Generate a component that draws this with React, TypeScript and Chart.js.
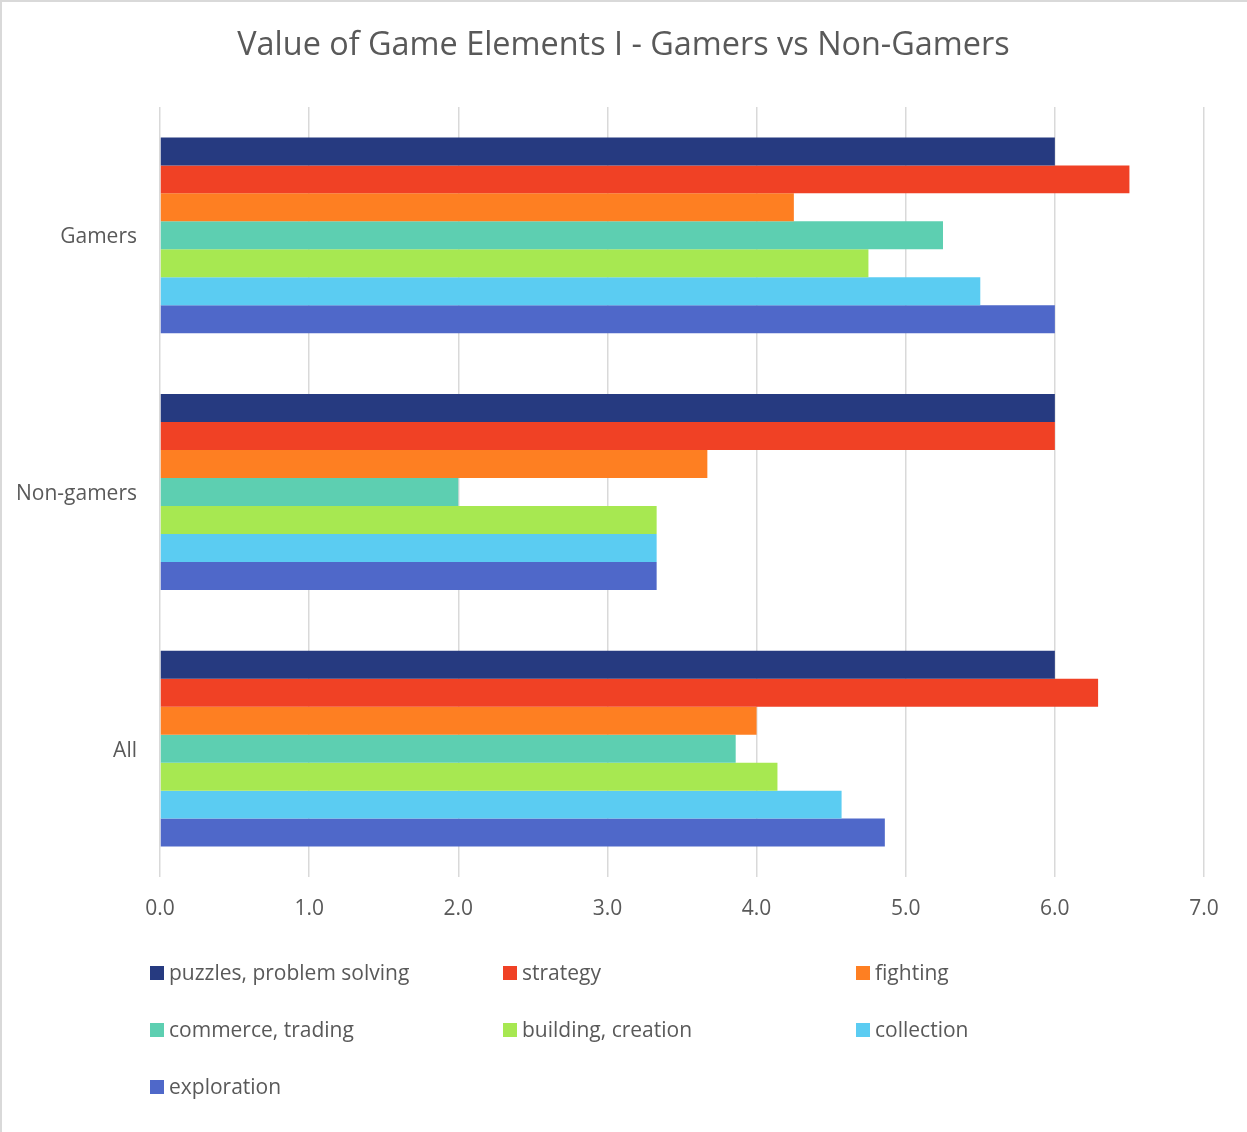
import React, { useEffect, useRef } from "react";
import { Chart, registerables } from "chart.js";

Chart.register(...registerables);

const categories = ["Gamers", "Non-gamers", "All"];
const seriesNames = [
  "puzzles, problem solving",
  "strategy",
  "fighting",
  "commerce, trading",
  "building, creation",
  "collection",
  "exploration",
];
const puzzles = [6.0, 6.0, 6.0];
const strategy = [6.5, 6.0, 6.29];
const fighting = [4.25, 3.67, 4.0];
const commerce = [5.25, 2.0, 3.86];
const building = [4.75, 3.33, 4.14];
const collection = [5.5, 3.33, 4.57];
const exploration = [6.0, 3.33, 4.86];
const xTicks = [0, 1, 2, 3, 4, 5, 6, 7];
const titleText = "Value of Game Elements I - Gamers vs Non-Gamers";

const seriesValues = [puzzles, strategy, fighting, commerce, building, collection, exploration];
const colors = ["#263A80", "#F04125", "#FE7F22", "#5DCFB1", "#A7E851", "#5BCCF2", "#4F68C9"];

const TEXT = "#595959";
const FONT = "'Open Sans', 'Noto Sans', sans-serif";

const decor = {
  id: "decor",
  beforeDraw(chart: any) {
    const ctx = chart.ctx;
    ctx.save();
    ctx.fillStyle = "#ffffff";
    ctx.fillRect(0, 0, chart.width, chart.height);
    ctx.fillStyle = "#d9d9d9";
    ctx.fillRect(0, 0, chart.width, 2);
    ctx.fillRect(0, 0, 2, chart.height);
    ctx.restore();
  },
  afterDraw(chart: any) {
    const ctx = chart.ctx;
    ctx.save();
    // title
    ctx.font = `32.4px ${FONT}`;
    ctx.fillStyle = TEXT;
    ctx.textAlign = "center";
    ctx.textBaseline = "middle";
    ctx.fillText(titleText, chart.width / 2, 46);
    // legend in a grid
    const ds = chart.data.datasets;
    const colX = [150, 503, 856];
    const rowY = [973, 1030, 1087];
    ctx.font = `21px ${FONT}`;
    ctx.textAlign = "left";
    ds.forEach((d: any, i: number) => {
      const x = colX[i % 3];
      const y = rowY[Math.floor(i / 3)];
      ctx.fillStyle = d.backgroundColor;
      ctx.fillRect(x, y - 7, 14, 14);
      ctx.fillStyle = TEXT;
      ctx.fillText(d.label, x + 19, y + 1);
    });
    ctx.restore();
  },
};

export default function App() {
  const ref = useRef<HTMLCanvasElement>(null);
  useEffect(() => {
    document.body.style.margin = "0";
    const chart = new Chart(ref.current!, {
      type: "bar",
      data: {
        labels: categories,
        datasets: seriesNames.map((n, i) => ({
          label: n,
          data: seriesValues[i],
          backgroundColor: colors[i],
          borderWidth: 0,
          categoryPercentage: 0.763,
          barPercentage: 1,
        })),
      },
      options: {
        indexAxis: "y",
        animation: false,
        responsive: false,
        maintainAspectRatio: false,
        layout: { padding: { top: 107, left: 0, right: 43, bottom: 195 } },
        plugins: {
          legend: { display: false },
          tooltip: { enabled: false },
          title: { display: false },
        },
        scales: {
          x: {
            min: 0,
            max: 7,
            afterBuildTicks: (s: any) => {
              s.ticks = xTicks.map((v) => ({ value: v }));
            },
            afterFit: (s: any) => {
              s.height = 60;
            },
            grid: { color: "#d9d9d9", lineWidth: 1.5, drawTicks: false },
            border: { display: false },
            ticks: {
              color: TEXT,
              font: { family: FONT, size: 21 },
              padding: 19,
              callback: (v: any) => Number(v).toFixed(1),
            },
          },
          y: {
            afterFit: (s: any) => {
              s.width = 160;
            },
            grid: { display: false, drawTicks: false },
            border: { display: false },
            ticks: {
              color: TEXT,
              font: { family: FONT, size: 21 },
              padding: 23,
              labelOffset: 2,
            },
          },
        },
      },
      plugins: [decor],
    } as any);
    return () => chart.destroy();
  }, []);
  return (
    <div style={{ width: 1247, height: 1132 }}>
      <canvas ref={ref} width={1247} height={1132} style={{ display: "block", width: 1247, height: 1132 }} />
    </div>
  );
}
